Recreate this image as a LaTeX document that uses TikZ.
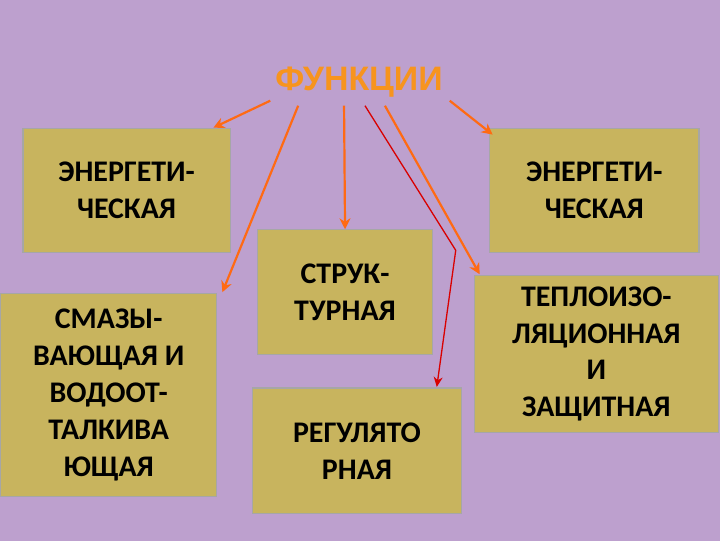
\documentclass[tikz,border=0pt]{standalone}
\usepackage{fontspec}
\usetikzlibrary{arrows.meta}
\setmainfont{Carlito}
\newfontfamily\titlefont{Liberation Sans}
\definecolor{bg}{HTML}{BDA0CE}
\definecolor{boxc}{HTML}{C8B45E}
\definecolor{ora}{HTML}{F7941E}
\definecolor{arr}{HTML}{FF6A13}
\begin{document}
\begin{tikzpicture}[x=1pt,y=-1pt,
 fbox/.style={draw=gray!70,line width=1.2pt,fill=boxc,align=center,font=\bfseries\fontsize{30}{37}\selectfont,inner sep=0pt},
 oar/.style={draw=arr,line width=2.2pt,-{Stealth[length=11pt,width=11pt]}},
 rar/.style={draw=red!85!black,line width=1.3pt,-{Stealth[length=10pt,width=9pt]}}]
\fill[bg] (-1,-1) rectangle (721,541);
\useasboundingbox (0,0) rectangle (720,540);
\node[fbox,minimum width=208,minimum height=124] (e1) at (126,190) {ЭНЕРГЕТИ-\\ЧЕСКАЯ};
\node[fbox,minimum width=217,minimum height=204] (s) at (108,395) {СМАЗЫ-\\ВАЮЩАЯ И\\ВОДООТ-\\ТАЛКИВА\\ЮЩАЯ};
\node[fbox,minimum width=176,minimum height=125] (st) at (345,292) {СТРУК-\\ТУРНАЯ};
\node[fbox,minimum width=210,minimum height=126] (r) at (357,451) {РЕГУЛЯТО\\РНАЯ};
\node[fbox,minimum width=210,minimum height=124] (e2) at (595,190) {ЭНЕРГЕТИ-\\ЧЕСКАЯ};
\node[fbox,minimum width=245,minimum height=158] (t) at (597,354) {ТЕПЛОИЗО-\\ЛЯЦИОННАЯ\\И\\ЗАЩИТНАЯ};
\node[text=ora,font=\titlefont\bfseries\fontsize{34}{36}\selectfont] (f) at (359,81) {ФУНКЦИИ};
\coordinate (a1) at (270,100); \coordinate (a2) at (298,105);
\coordinate (a3) at (344,105); \coordinate (a4) at (385,105);
\coordinate (a5) at (450,100); \coordinate (a6) at (365,105);
\coordinate (k) at (456,250);
\coordinate (b1) at (213,127); \coordinate (b2) at (222,292);
\coordinate (b4) at (480,274); \coordinate (b5) at (493,134);
\coordinate (b6) at (437,387);
\draw[oar] (a1) -- (b1);
\draw[oar] (a2) -- (b2);
\draw[oar] (a3) -- (st.north);
\draw[oar] (a4) -- (b4);
\draw[oar] (a5) -- (b5);
\draw[rar] (a6) -- (k) -- (b6);
\end{tikzpicture}
\end{document}
